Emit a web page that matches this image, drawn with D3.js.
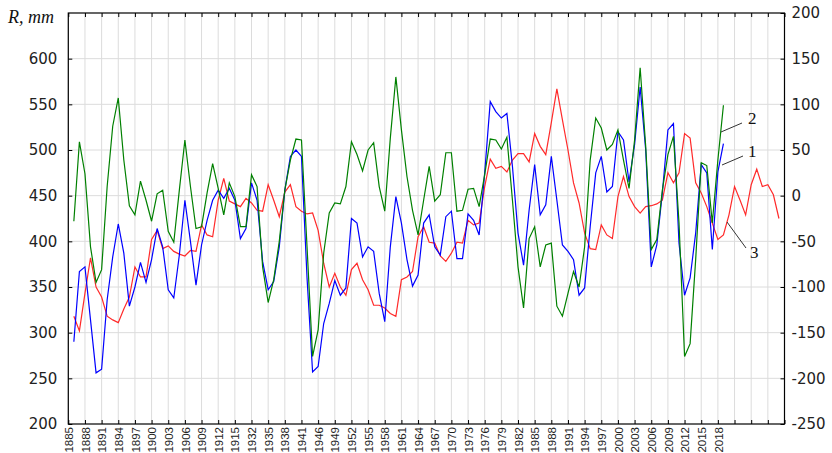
<!DOCTYPE html>
<html><head><meta charset="utf-8">
<script src="https://cdn.jsdelivr.net/npm/d3@7"></script>
<style>
html,body{margin:0;padding:0;background:#fff;}
svg{display:block;}
</style></head>
<body>
<svg id="chart" width="832" height="453"></svg>
<script>
// ---- categories (years; gaps in the record) ----
const years = [];
for (let y = 1885; y <= 1917; y++) years.push(y);
for (let y = 1932; y <= 1941; y++) years.push(y);
years.push(1944, 1945);
for (let y = 1946; y <= 2030; y++) years.push(y);

// ---- series (R, mm), aligned with years; null = no value ----
const series1 = [null,318,302,343,382,350,339,318,314,311,326,339,372,361,361,402,412,392,395,389,386,384,390,389,418,407,405,445,469,444,441,438,447,442,434,433,462,445,427,454,462,438,433,430,431,412,376,350,365,350,341,369,376,358,347,330,330,327,321,318,358,361,367,405,416,399,398,384,378,387,399,398,423,418,420,460,490,480,482,476,489,496,496,487,518,504,495,530,567,533,500,464,442,409,392,391,418,407,403,449,471,449,438,431,438,439,441,445,475,464,475,518,513,464,453,438,420,402,407,429,460,445,429,462,479,460,462,451,425];
const series2 = [null,422,509,474,394,355,369,460,526,557,489,439,429,466,445,422,452,456,411,399,456,511,460,414,416,453,485,458,429,464,449,416,416,473,460,372,333,358,400,456,489,512,511,394,274,303,387,431,442,441,460,509,495,477,500,508,460,433,513,580,522,471,434,407,445,482,444,451,497,497,433,434,457,458,438,473,512,511,501,514,445,372,327,403,416,372,396,398,329,318,343,367,350,394,489,535,524,500,506,522,489,458,511,590,504,391,402,456,495,515,420,274,288,380,486,483,420,489,549];
const series3 = [null,290,367,372,314,256,260,336,383,419,387,329,350,377,355,380,414,394,347,338,385,445,400,352,396,423,445,456,447,458,445,403,414,464,445,378,347,356,394,456,493,500,493,360,257,263,310,332,357,341,349,425,420,383,394,389,343,312,394,449,420,380,351,363,420,429,394,385,427,433,381,381,430,423,407,475,553,542,535,540,482,409,374,434,484,429,440,493,445,396,389,380,341,349,416,475,493,454,460,520,511,465,506,569,500,372,396,453,522,529,398,341,360,409,484,475,391,476,507];

const leftTicks = [200,250,300,350,400,450,500,550,600];
const rightTicks = [-250,-200,-150,-100,-50,0,50,100,150,200];
const lastLabelledYear = 2018;
const curveLabels = [
  {text:"2", x:748, y:124, x1:721, y1:132, x2:742, y2:123},
  {text:"1", x:748, y:157, x1:722, y1:165, x2:743, y2:156},
  {text:"3", x:750, y:258, x1:727, y1:222, x2:746, y2:248}
];

const svg = d3.select("#chart");
const L = 68.3, R = 784.5, T = 13, B = 424;

const x = d3.scalePoint().domain(years).range([L, R]);
const yL = d3.scaleLinear().domain([200, 650]).range([B, T]);
const yR = d3.scaleLinear().domain([-250, 200]).range([B, T]);

const xTickYears = years.filter((d, i) => i % 3 === 0);

// gridlines
const grid = svg.append("g").attr("stroke", "#dcdcdc").attr("stroke-width", 1);
grid.selectAll("line.v").data(xTickYears).join("line")
  .attr("x1", d => x(d)).attr("x2", d => x(d)).attr("y1", T).attr("y2", B);
grid.selectAll("line.h").data(leftTicks.filter(d => d > 200)).join("line")
  .attr("x1", L).attr("x2", R).attr("y1", d => yL(d)).attr("y2", d => yL(d));

// series lines
const mk = (arr) => d3.line()
  .defined(d => d != null)
  .x((d, i) => x(years[i]))
  .y(d => yL(d))(arr);

svg.append("path").attr("d", mk(series1)).attr("fill", "none")
  .attr("stroke", "#ff2a2a").attr("stroke-width", 1.2);
svg.append("path").attr("d", mk(series3)).attr("fill", "none")
  .attr("stroke", "#0000ff").attr("stroke-width", 1.2);
svg.append("path").attr("d", mk(series2)).attr("fill", "none")
  .attr("stroke", "#008000").attr("stroke-width", 1.2);

// frame
svg.append("rect").attr("x", L).attr("y", T).attr("width", R - L).attr("height", B - T)
  .attr("fill", "none").attr("stroke", "#000").attr("stroke-width", 1.2);

// axes
const styleAxis = g => { g.select(".domain").remove(); g.selectAll(".tick line").attr("stroke", "#000"); };

const axL = svg.append("g").attr("transform", `translate(${L},0)`)
  .call(d3.axisLeft(yL).tickValues(leftTicks).tickSize(-4).tickPadding(11))
  .call(styleAxis);
axL.selectAll("text").attr("font-family", "DejaVu Sans, Liberation Sans, Arial")
  .attr("font-size", 15).attr("fill", "#222");

const axR = svg.append("g").attr("transform", `translate(${R},0)`)
  .call(d3.axisRight(yR).tickValues(rightTicks).tickSize(-4).tickPadding(7)
    .tickFormat(d => String(d)))
  .call(styleAxis);
axR.selectAll("text").attr("font-family", "DejaVu Sans, Liberation Sans, Arial")
  .attr("font-size", 15).attr("fill", "#222");

const axB = svg.append("g").attr("transform", `translate(0,${B})`)
  .call(d3.axisBottom(x).tickValues(xTickYears).tickSize(-4)
    .tickFormat(d => d <= lastLabelledYear ? String(d) : ""))
  .call(styleAxis);
axB.selectAll("text")
  .attr("font-family", "Liberation Sans Narrow, Arial Narrow, Liberation Sans")
  .attr("font-size", 11.5).attr("fill", "#222")
  .attr("text-anchor", "end")
  .attr("transform", "rotate(-90)")
  .attr("x", -3).attr("y", 0).attr("dy", "0.36em").attr("dx", 0);

svg.append("g").attr("transform", `translate(0,${T})`)
  .call(d3.axisTop(x).tickValues(xTickYears).tickSize(-4).tickFormat(""))
  .call(styleAxis);

// axis title
svg.append("text").attr("x", 8).attr("y", 23)
  .attr("font-family", "Liberation Serif, Times New Roman, serif")
  .attr("font-style", "italic").attr("font-size", 18).attr("fill", "#111")
  .text("R, mm");

// curve labels with leaders
const cl = svg.append("g");
cl.selectAll("line").data(curveLabels).join("line")
  .attr("x1", d => d.x1).attr("y1", d => d.y1).attr("x2", d => d.x2).attr("y2", d => d.y2)
  .attr("stroke", "#333").attr("stroke-width", 1);
cl.selectAll("text").data(curveLabels).join("text")
  .attr("x", d => d.x).attr("y", d => d.y)
  .attr("font-family", "Liberation Serif, Times New Roman, serif")
  .attr("font-size", 17).attr("fill", "#111")
  .text(d => d.text);
</script>
</body></html>
